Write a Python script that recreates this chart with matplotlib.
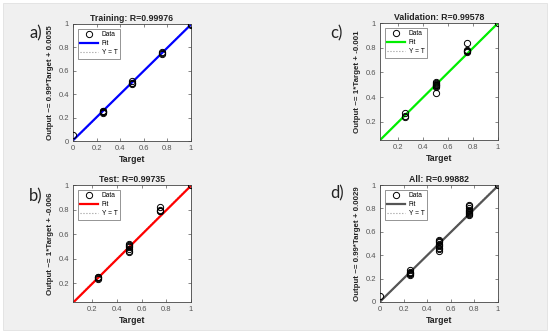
import matplotlib
matplotlib.use('Agg')
import matplotlib.pyplot as plt
import numpy as np
from matplotlib.patches import Rectangle

plt.rcParams['font.family'] = ['Liberation Sans', 'DejaVu Sans']

# regression panels: targets / outputs
train_t = [0, 0.25, 0.25, 0.25, 0.25, 0.25, 0.5, 0.5, 0.5, 0.5, 0.75, 0.75, 0.75, 1, 1]
train_y = [0.05, 0.24, 0.25, 0.26, 0.255, 0.245, 0.49, 0.50, 0.51, 0.495, 0.74, 0.75, 0.76, 1.0, 0.995]

val_t = [0.25, 0.25, 0.25, 0.5, 0.5, 0.5, 0.5, 0.5, 0.5, 0.5, 0.5, 0.75, 0.75, 0.75, 0.75, 0.75, 1]
val_y = [0.27, 0.245, 0.24, 0.52, 0.51, 0.50, 0.49, 0.48, 0.50, 0.505, 0.435, 0.835, 0.78, 0.775, 0.77, 0.765, 1.0]

test_t = [0.25, 0.25, 0.25, 0.25, 0.5, 0.5, 0.5, 0.5, 0.5, 0.5, 0.5, 0.75, 0.75, 0.75, 0.75, 1]
test_y = [0.25, 0.24, 0.235, 0.245, 0.52, 0.51, 0.50, 0.49, 0.48, 0.465, 0.455, 0.82, 0.80, 0.79, 0.785, 1.0]

all_t = [0, 0.25, 0.25, 0.25, 0.25, 0.25, 0.25,
         0.5, 0.5, 0.5, 0.5, 0.5, 0.5, 0.5, 0.5, 0.5,
         0.75, 0.75, 0.75, 0.75, 0.75, 0.75, 0.75, 0.75, 0.75, 1]
all_y = [0.05, 0.27, 0.26, 0.25, 0.245, 0.24, 0.235,
         0.53, 0.52, 0.51, 0.50, 0.49, 0.48, 0.465, 0.45, 0.435,
         0.83, 0.82, 0.80, 0.79, 0.78, 0.77, 0.76, 0.75, 0.74, 1.0]

titles = ['Training: R=0.99976', 'Validation: R=0.99578', 'Test: R=0.99735', 'All: R=0.99882']
ylabels = ['Output ~= 0.99*Target + 0.0055', 'Output ~= 1*Target + -0.001',
           'Output ~= 1*Target + -0.006', 'Output ~= 0.99*Target + 0.0029']
slopes = [0.99, 1.0, 1.0, 0.99]
intercepts = [0.0055, -0.001, -0.006, 0.0029]
lows = [0.0, 0.052, 0.045, 0.0]
fit_colors = ['#0000ff', '#00ee00', '#ff0000', '#555555']
letters = ['a)', 'c)', 'b)', 'd)']
datasets = [(train_t, train_y), (val_t, val_y), (test_t, test_y), (all_t, all_y)]

fig = plt.figure(figsize=(5.5, 3.35), dpi=100)
fig.patch.set_facecolor('white')
fig.patches.append(Rectangle((3 / 550, 5 / 335), 544 / 550, 327 / 335,
                             transform=fig.transFigure, facecolor='#f0f0f0',
                             edgecolor='#dddddd', lw=0.5, zorder=-1))

positions = [
    (73 / 550, 1 - 141 / 335),
    (380 / 550, 1 - 140 / 335),
    (73 / 550, 1 - 302 / 335),
    (380 / 550, 1 - 302 / 335),
]
letter_pos = [(29, 33), (330, 33), (29, 196), (330, 193)]

for i in range(4):
    left, bottom = positions[i]
    ax = fig.add_axes([left, bottom, 118 / 550, 117 / 335])
    t, y = datasets[i]
    lo = lows[i]
    xs = np.array([lo, 1.0])

    ax.plot(t, y, 'o', mfc='none', mec='black', ms=4.5, mew=0.7, label='Data', zorder=3)
    ax.plot(xs, slopes[i] * xs + intercepts[i], color=fit_colors[i], lw=1.6, label='Fit', zorder=2)
    ax.plot(xs, xs, ':', color='#999999', lw=0.8, label='Y = T', zorder=1)

    ax.set_xlim(lo, 1)
    ax.set_ylim(lo, 1)
    ticks = [0, 0.2, 0.4, 0.6, 0.8, 1] if lo == 0 else [0.2, 0.4, 0.6, 0.8, 1]
    ax.set_xticks(ticks)
    ax.set_yticks(ticks)
    ax.set_xticklabels([f'{v:g}' for v in ticks])
    ax.set_yticklabels([f'{v:g}' for v in ticks])
    ax.tick_params(direction='in', length=2, width=0.5, labelsize=5.5,
                   colors='#555555', top=True, right=True, pad=3)
    for s in ax.spines.values():
        s.set_color('#444444')
        s.set_linewidth(0.6)

    ax.set_title(titles[i], fontsize=6.3, fontweight='bold', color='#222222', pad=2)
    ax.set_xlabel('Target', fontsize=6.3, fontweight='bold', color='#222222', labelpad=2)
    ax.set_ylabel(ylabels[i], fontsize=5.7, fontweight='bold', color='#222222', labelpad=3)

    leg = ax.legend(loc='upper left', fontsize=4.8, frameon=True, fancybox=False,
                    edgecolor='#444444', handlelength=2.6, borderpad=0.4,
                    labelspacing=0.3, handletextpad=0.6, borderaxespad=0.7)
    leg.get_frame().set_linewidth(0.5)

    lx, ly = letter_pos[i]
    fig.text(lx / 550, 1 - ly / 335, letters[i], fontsize=12, family='Lato',
             color='#222222', va='center', ha='left')

fig.savefig('out.png', dpi=100)
